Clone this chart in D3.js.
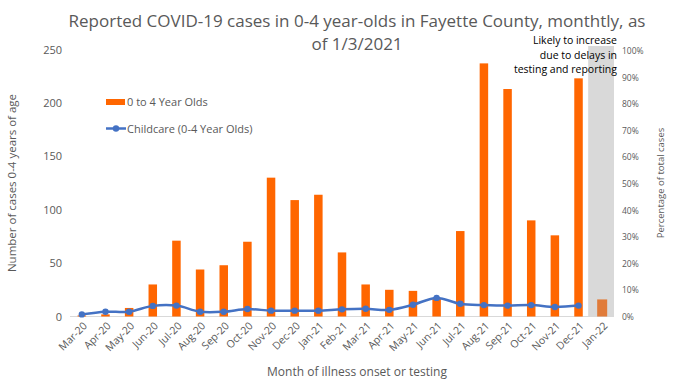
<!DOCTYPE html>
<html><head><meta charset="utf-8">
<script src="https://cdn.jsdelivr.net/npm/d3@7"></script>
<style>body{margin:0;background:#fff}svg{display:block}text{font-family:"Open Sans","Noto Sans",sans-serif}</style>
</head><body><svg id="c" width="673" height="385"></svg>
<script>
const months = ["Mar-20","Apr-20","May-20","Jun-20","Jul-20","Aug-20","Sep-20","Oct-20","Nov-20","Dec-20","Jan-21","Feb-21","Mar-21","Apr-21","May-21","Jun-21","Jul-21","Aug-21","Sep-21","Oct-21","Nov-21","Dec-21","Jan-22"];
const cases = [1,2,8,30,71,44,48,70,130,109,114,60,30,25,24,17,80,237,213,90,76,223,null];
const casesIncomplete = [null,null,null,null,null,null,null,null,null,null,null,null,null,null,null,null,null,null,null,null,null,null,16];
const childcarePct = [0.008,0.018,0.018,0.040,0.041,0.018,0.018,0.028,0.022,0.022,0.022,0.027,0.029,0.025,0.044,0.070,0.048,0.043,0.041,0.043,0.036,0.041,null];
const leftTicks = [0,50,100,150,200,250];
const rightTicks = [0,0.1,0.2,0.3,0.4,0.5,0.6,0.7,0.8,0.9,1.0];
const titleLines = ["Reported COVID-19 cases in 0-4 year-olds in Fayette County, monthtly, as","of 1/3/2021"];
const noteLines = ["Likely to increase","due to delays in","testing and reporting"];

const svg = d3.select("#c");
const L = 70, R = 614, T = 46, B = 316.5;
const x = d3.scaleBand().domain(months).range([L, R]).paddingInner(0).paddingOuter(0);
const y = d3.scaleLinear().domain([0,250]).range([B, 49.5]);
const y2 = d3.scaleLinear().domain([0,1]).range([B, 51]);
const bw = 8.5;

// gray shaded band for last month
const last = months[months.length-1];
svg.append("rect").attr("x", x(last) + x.bandwidth()/2 - 14).attr("y", T)
  .attr("width", R - (x(last) + x.bandwidth()/2 - 14)).attr("height", B - T).attr("fill", "#D9D9D9");

// baseline
svg.append("line").attr("x1", L).attr("x2", R).attr("y1", B).attr("y2", B).attr("stroke", "#D9D9D9").attr("stroke-width", 1);

// bars
svg.append("g").selectAll("rect").data(months.map((m,i)=>({m, v:cases[i]})).filter(d=>d.v!=null)).join("rect")
  .attr("x", d => x(d.m) + x.bandwidth()/2 - bw/2).attr("width", bw)
  .attr("y", d => y(d.v)).attr("height", d => y(0) - y(d.v)).attr("fill", "#FF6600");
svg.append("g").selectAll("rect").data(months.map((m,i)=>({m, v:casesIncomplete[i]})).filter(d=>d.v!=null)).join("rect")
  .attr("x", d => x(d.m) + x.bandwidth()/2 - 5).attr("width", 10)
  .attr("y", d => y(d.v)).attr("height", d => y(0) - y(d.v)).attr("fill", "#E07B39");

// line
const pts = months.map((m,i)=>({m, v:childcarePct[i]})).filter(d=>d.v!=null);
svg.append("path").datum(pts)
  .attr("d", d3.line().x(d => x(d.m) + x.bandwidth()/2).y(d => y2(d.v)).curve(d3.curveCatmullRom.alpha(0.5)))
  .attr("fill","none").attr("stroke","#4472C4").attr("stroke-width",2.5).attr("stroke-linejoin","round");
svg.append("g").selectAll("circle").data(pts).join("circle")
  .attr("cx", d => x(d.m) + x.bandwidth()/2).attr("cy", d => y2(d.v)).attr("r", 3.2).attr("fill","#4472C4");

// left axis
const la = svg.append("g").attr("transform", `translate(${L},0)`)
  .call(d3.axisLeft(y).tickValues(leftTicks).tickSize(0).tickPadding(8));
la.select(".domain").remove();
la.selectAll("text").attr("font-size", 11).attr("fill", "#595959").attr("font-family", "Open Sans");

// right axis
const ra = svg.append("g").attr("transform", `translate(${R},0)`)
  .call(d3.axisRight(y2).tickValues(rightTicks).tickFormat(d3.format(".0%")).tickSize(0).tickPadding(8));
ra.select(".domain").remove();
ra.selectAll("text").attr("font-size", 8.5).attr("fill", "#595959");

// bottom axis
const ba = svg.append("g").attr("transform", `translate(0,${B})`)
  .call(d3.axisBottom(x).tickSize(0).tickPadding(0));
ba.select(".domain").remove();
ba.selectAll("text").attr("font-size", 10.5).attr("fill", "#595959")
  .attr("text-anchor","end").attr("dy", null).attr("y", 0)
  .attr("transform","translate(4,8) rotate(-45)").attr("dominant-baseline","middle");

// axis titles
svg.append("text").attr("transform", "translate(16,183) rotate(-90)").attr("text-anchor","middle")
  .attr("font-size", 11.5).attr("fill","#595959").text("Number of cases 0-4 years of age");
svg.append("text").attr("transform", "translate(664,183) rotate(-90)").attr("text-anchor","middle")
  .attr("font-size", 9.5).attr("fill","#595959").text("Percentage of total cases");
svg.append("text").attr("x", 357).attr("y", 376).attr("text-anchor","middle")
  .attr("font-size", 12).attr("fill","#595959").text("Month of illness onset or testing");

// title
svg.append("g").selectAll("text").data(titleLines).join("text")
  .attr("x", 357).attr("y", (d,i) => 27 + i*23).attr("text-anchor","middle")
  .attr("font-size", 17).attr("fill","#595959").text(d => d);

// note
svg.append("g").selectAll("text").data(noteLines).join("text")
  .attr("x", 617).attr("y", (d,i) => 44 + i*14.5).attr("text-anchor","end")
  .attr("font-size", 10.5).attr("fill","#000").text(d => d);

// legend
const lg = svg.append("g");
lg.append("rect").attr("x",106).attr("y",99).attr("width",19).attr("height",6).attr("fill","#FF6600");
lg.append("text").attr("x",127).attr("y",106).attr("font-size",11).attr("fill","#595959").text("0 to 4 Year Olds");
lg.append("line").attr("x1",106).attr("x2",126).attr("y1",128.5).attr("y2",128.5).attr("stroke","#4472C4").attr("stroke-width",2.5);
lg.append("circle").attr("cx",116).attr("cy",128.5).attr("r",3.2).attr("fill","#4472C4");
lg.append("text").attr("x",127).attr("y",132.5).attr("font-size",11).attr("fill","#595959").text("Childcare (0-4 Year Olds)");
</script></body></html>
